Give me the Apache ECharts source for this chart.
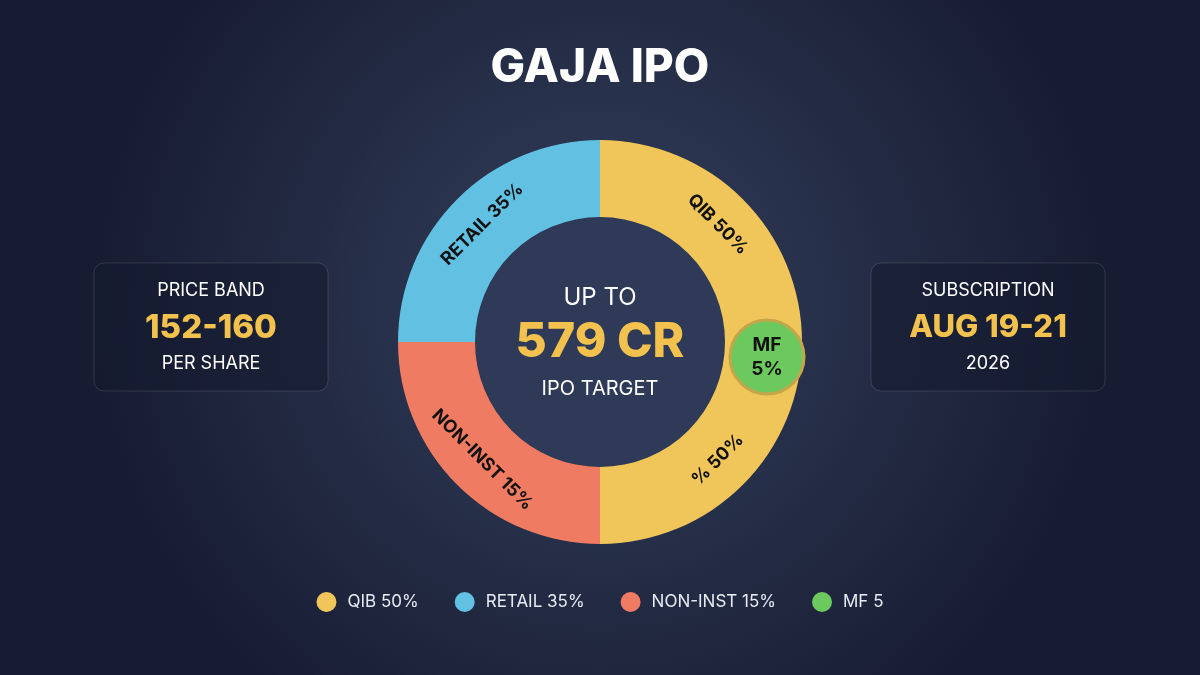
<!DOCTYPE html>
<html><head><meta charset="utf-8">
<script src="https://cdn.jsdelivr.net/npm/echarts@6/dist/echarts.min.js"></script>
<style>html,body{margin:0;padding:0;}#c{width:1200px;height:675px;}</style>
</head><body><div id="c"></div>
<script>
const sliceNames = ['QIB 50%', '% 50%', 'NON-INST 15%', 'RETAIL 35%'];
const sliceValues = [25, 25, 25, 25];
const sliceColors = ['#f0c55a', '#f0c55a', '#f07b63', '#62c1e2'];
const legendNames = ['QIB 50%', 'RETAIL 35%', 'NON-INST 15%', 'MF 5'];
const mfName = 'MF 5';
const mfValue = 5;
const mfLabel = 'MF\n5%';

const chart = echarts.init(document.getElementById('c'));
const F = 'Inter, "Open Sans", sans-serif';
chart.setOption({
  backgroundColor: {type:'radial', x:0.5, y:0.45, r:0.75, colorStops:[{offset:0,color:'#34405d'},{offset:1,color:'#171c32'}]},
  color: ['#f0c55a','#62c1e2','#f07b63','#6cc95e'],
  title: {text:'GAJA IPO', left:'center', top:40, textStyle:{color:'#fff', fontSize:46, fontWeight:800, fontFamily:'Inter, sans-serif'}},
  legend: {data: legendNames, bottom:58, left:'center', icon:'circle', itemWidth:20, itemHeight:20, itemGap:36,
    itemStyle:{borderWidth:0},
    textStyle:{color:'#e8ebf2', fontSize:17, fontFamily:F, padding:[0,0,0,6]}},
  graphic: [
    {type:'circle', shape:{cx:600, cy:342, r:125}, style:{fill:'#2e3a57'}, z:0},
    {type:'rect', shape:{x:94,y:263,width:234,height:128,r:10}, style:{fill:'rgba(20,26,46,0.55)', stroke:'rgba(255,255,255,0.12)', lineWidth:1}},
    {type:'rect', shape:{x:871,y:263,width:234,height:128,r:10}, style:{fill:'rgba(20,26,46,0.55)', stroke:'rgba(255,255,255,0.12)', lineWidth:1}},
    {type:'text', style:{x:211,y:291,text:'PRICE BAND',fill:'#fff',font:'18px '+F,align:'center',verticalAlign:'middle'}},
    {type:'text', style:{x:211,y:328,text:'152-160',fill:'#f2c14e',font:'800 33px '+F,align:'center',verticalAlign:'middle'}},
    {type:'text', style:{x:211,y:364,text:'PER SHARE',fill:'#fff',font:'18px '+F,align:'center',verticalAlign:'middle'}},
    {type:'text', style:{x:988,y:291,text:'SUBSCRIPTION',fill:'#fff',font:'18px '+F,align:'center',verticalAlign:'middle'}},
    {type:'text', style:{x:988,y:328,text:'AUG 19-21',fill:'#f2c14e',font:'800 31px '+F,align:'center',verticalAlign:'middle'}},
    {type:'text', style:{x:988,y:364,text:'2026',fill:'#fff',font:'18px '+F,align:'center',verticalAlign:'middle'}},
    {type:'text', style:{x:600,y:298,text:'UP TO',fill:'#fff',font:'24px '+F,align:'center',verticalAlign:'middle'}, z:10},
    {type:'text', style:{x:600,y:343,text:'579 CR',fill:'#f2c14e',font:'800 48px '+F,align:'center',verticalAlign:'middle'}, z:10},
    {type:'text', style:{x:600,y:389,text:'IPO TARGET',fill:'#fff',font:'20px '+F,align:'center',verticalAlign:'middle'}, z:10}
  ],
  series: [
    {type:'pie', center:[600,342], radius:[125,202], startAngle:90, clockwise:true, silent:true,
      data: sliceNames.map((n,i)=>({name:n, value:sliceValues[i], itemStyle:{color:sliceColors[i]}})),
      label:{show:true, position:'inside', rotate:'tangential', formatter:'{b}', color:'#111', fontSize:18, fontWeight:700, fontFamily:F},
      labelLine:{show:false}},
    {type:'pie', center:[767,357], radius:[0,37], silent:true, z:5,
      data:[{name:mfName, value:mfValue, itemStyle:{color:'#6cc95e', borderColor:'#c4a64a', borderWidth:3}}],
      label:{show:true, position:'center', formatter:mfLabel, color:'#111', fontSize:19, fontWeight:700, lineHeight:24, fontFamily:F}}
  ]
});
</script></body></html>
